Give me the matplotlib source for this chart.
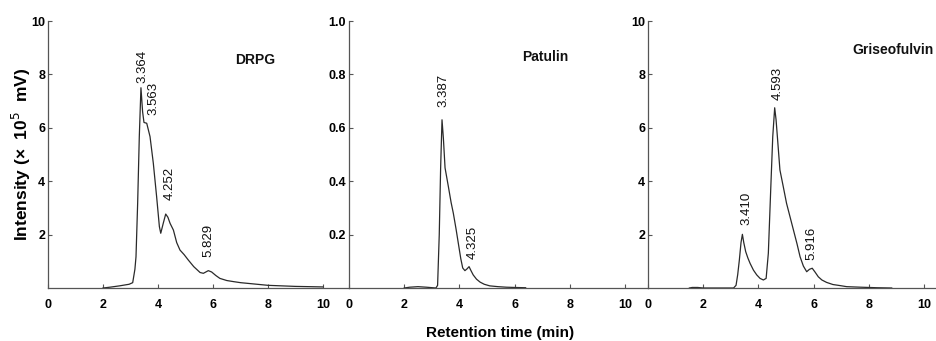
import matplotlib
matplotlib.use("Agg")
import matplotlib.pyplot as plt

plt.rcParams['font.family'] = ['Liberation Sans', 'DejaVu Sans']

# chromatogram traces (time in min, intensity)
drpg_t = [2.0, 2.25, 2.6, 2.95, 3.08, 3.16, 3.2, 3.26, 3.32, 3.38, 3.44, 3.49, 3.59,
          3.71, 3.83, 3.95, 4.05, 4.1, 4.19, 4.28, 4.36, 4.44, 4.56, 4.68, 4.8, 4.95,
          5.1, 5.3, 5.53, 5.65, 5.83, 5.95, 6.1, 6.25, 6.5, 6.74, 7.0, 7.5, 8.0, 8.5,
          9.0, 9.5, 10.0]
drpg_i = [0.0, 0.03, 0.08, 0.14, 0.2, 0.7, 1.17, 3.17, 5.67, 7.5, 6.6, 6.2, 6.17,
          5.67, 4.67, 3.42, 2.3, 2.05, 2.42, 2.77, 2.65, 2.42, 2.17, 1.7, 1.42, 1.25,
          1.05, 0.8, 0.58, 0.55, 0.65, 0.6, 0.47, 0.36, 0.28, 0.24, 0.2, 0.15, 0.1, 0.08,
          0.06, 0.05, 0.04]

patulin_t = [2.0, 2.2, 2.5, 2.8, 3.15, 3.21, 3.27, 3.32, 3.37, 3.42, 3.48, 3.6, 3.7,
             3.78, 3.88, 3.96, 4.05, 4.12, 4.2, 4.28, 4.35, 4.42, 4.5, 4.62, 4.75, 4.9,
             5.1, 5.4, 5.7, 6.0, 6.4]
patulin_i = [0.0, 0.003, 0.005, 0.003, 0.0, 0.01, 0.2, 0.45, 0.63, 0.56, 0.45, 0.38, 0.32,
             0.28, 0.22, 0.168, 0.11, 0.075, 0.065, 0.072, 0.08, 0.065, 0.049, 0.033, 0.022, 0.014,
             0.008, 0.005, 0.003, 0.002, 0.001]

griseo_t = [1.5, 1.6, 1.8, 2.0, 3.1, 3.19, 3.25, 3.31, 3.37, 3.42, 3.47, 3.54, 3.62,
            3.7, 3.82, 3.94, 4.06, 4.18, 4.28, 4.36, 4.45, 4.52, 4.59, 4.64, 4.7, 4.78,
            4.9, 5.02, 5.15, 5.27, 5.4, 5.51, 5.63, 5.75, 5.85, 5.95, 6.05, 6.17, 6.3,
            6.47, 6.7, 6.96, 7.2, 7.7, 8.3, 8.83]
griseo_i = [0.0, 0.02, 0.02, 0.0, 0.0, 0.1, 0.5, 1.05, 1.7, 2.01, 1.7, 1.36, 1.12,
            0.92, 0.67, 0.49, 0.36, 0.3, 0.36, 1.3, 3.79, 5.67, 6.75, 6.3, 5.5, 4.42,
            3.8, 3.17, 2.65, 2.17, 1.65, 1.17, 0.82, 0.61, 0.7, 0.74, 0.6, 0.42, 0.3,
            0.21, 0.13, 0.09, 0.05, 0.03, 0.01, 0.0]

names = ['DRPG', 'Patulin', 'Griseofulvin']
peak_labels = [['3.364', '3.563', '4.252', '5.829'],
               ['3.387', '4.325'],
               ['3.410', '4.593', '5.916']]

# layout (pixels of the 936x341 figure)
W, H = 936, 341
panel_px = [(48, 349, 27.5), (349, 648, 27.6), (648, 936, 27.6)]
ymax = [10, 1.0, 10]
yticks = [[2, 4, 6, 8, 10], [0.2, 0.4, 0.6, 0.8, 1.0], [2, 4, 6, 8, 10]]
ytick_fmt = ['{:g}', '{:.1f}', '{:g}']
title_pos = [(7.53, 8.54), (7.1, 0.865), (8.88, 8.91)]
label_pos = [[(3.44, 7.68), (3.82, 6.48), (4.44, 3.3), (5.82, 1.16)],
             [(3.44, 0.678), (4.49, 0.108)],
             [(3.55, 2.36), (4.71, 7.04), (5.93, 1.05)]]

traces = [(drpg_t, drpg_i), (patulin_t, patulin_i), (griseo_t, griseo_i)]

fig = plt.figure(figsize=(W / 100, H / 100), dpi=100)
spine_c = '#555555'

for k in range(3):
    x0, x1, scale = panel_px[k]
    ax = fig.add_axes([x0 / W, 53 / H, (x1 - x0) / W, 267 / H])
    t, inten = traces[k]
    ax.plot(t, inten, color='#2a2a2a', lw=0.9)
    ax.set_xlim(0, (x1 - x0) / scale)
    ax.set_ylim(0, ymax[k])
    ax.set_xticks([0, 2, 4, 6, 8, 10])
    ax.set_yticks(yticks[k])
    ax.set_yticklabels([ytick_fmt[k].format(v) for v in yticks[k]])
    ax.spines['top'].set_visible(False)
    ax.spines['right'].set_visible(False)
    for s in ('left', 'bottom'):
        ax.spines[s].set_color(spine_c)
        ax.spines[s].set_linewidth(0.9)
    ax.tick_params(direction='in', length=3, width=0.8, color=spine_c,
                   labelsize=9)
    ax.tick_params(axis='x', pad=8)
    ax.tick_params(axis='y', pad=2)
    for lab in ax.get_xticklabels() + ax.get_yticklabels():
        lab.set_fontweight('bold')
    ax.patch.set_alpha(0)
    tx, ty = title_pos[k]
    ax.text(tx, ty, names[k], ha='center', va='center', fontsize=10,
            fontweight='bold', color='#111111')
    for lab, (lx, ly) in zip(peak_labels[k], label_pos[k]):
        ax.text(lx, ly, lab, rotation=90, ha='center', va='bottom',
                fontsize=9.5, color='#111111')

fig.text(21 / W, 1 - 154 / H, 'Intensity (×  10$^5$  mV)', rotation=90,
         ha='center', va='center', fontsize=12.5, fontweight='bold')
fig.text(500 / W, 1 - 333 / H, 'Retention time (min)', ha='center', va='center',
         fontsize=11, fontweight='bold')

fig.savefig('out.png', dpi=100)
